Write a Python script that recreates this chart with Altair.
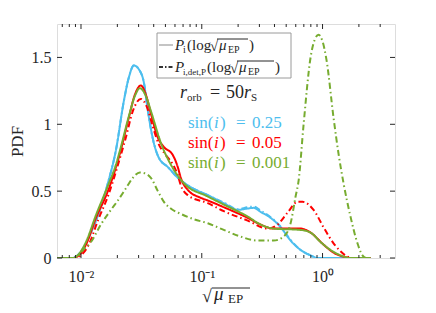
import altair as alt
import pandas as pd

# ---------------- data ----------------
blue_x = [0.00633, 0.00859, 0.00962, 0.0110, 0.0121, 0.0146, 0.0167, 0.0195, 0.0227, 0.0249, 0.0274, 0.0302,
          0.0332, 0.0358, 0.0401, 0.0441, 0.0524, 0.0633, 0.0811, 0.1121, 0.152, 0.199, 0.240, 0.269, 0.307,
          0.372, 0.450, 0.544, 0.658, 0.796, 0.909, 2.49]
blue_solid_y = [0, 0, 0.03, 0.11, 0.19, 0.38, 0.56, 0.81, 1.18, 1.35, 1.44, 1.41, 1.31, 1.10, 0.86, 0.75, 0.68,
                0.60, 0.53, 0.47, 0.41, 0.36, 0.37, 0.375, 0.345, 0.30, 0.23, 0.13, 0.06, 0.02, 0, 0]
blue_dash_y = [0, 0, 0.03, 0.11, 0.19, 0.38, 0.56, 0.81, 1.18, 1.35, 1.44, 1.41, 1.31, 1.10, 0.86, 0.75, 0.68,
               0.60, 0.53, 0.47, 0.415, 0.365, 0.38, 0.385, 0.355, 0.305, 0.235, 0.135, 0.06, 0.02, 0, 0]

red_solid_x = [0.00633, 0.00859, 0.00962, 0.0110, 0.0133, 0.0167, 0.0195, 0.0214, 0.0249, 0.0279, 0.0313,
               0.0345, 0.0379, 0.0433, 0.0486, 0.0576, 0.0633, 0.0670, 0.0766, 0.0982, 0.1121, 0.152, 0.240,
               0.307, 0.394, 0.658, 0.796, 1.019, 1.233, 1.492, 1.703, 2.49]
red_solid_y = [0, 0, 0.02, 0.10, 0.30, 0.50, 0.68, 0.81, 1.05, 1.22, 1.29, 1.22, 1.08, 0.90, 0.83, 0.77, 0.68,
               0.60, 0.51, 0.45, 0.43, 0.38, 0.30, 0.25, 0.22, 0.22, 0.19, 0.10, 0.04, 0.01, 0, 0]

red_dash_x = [0.00633, 0.00892, 0.0100, 0.0116, 0.0138, 0.0170, 0.0206, 0.0235, 0.0269, 0.0313, 0.0351, 0.0394,
              0.0441, 0.0504, 0.0576, 0.0633, 0.0670, 0.0766, 0.1121, 0.152, 0.240, 0.351, 0.425, 0.514, 0.621,
              0.684, 0.843, 1.019, 1.233, 1.409, 1.610, 1.770, 2.49]
red_dash_y = [0, 0, 0.02, 0.10, 0.28, 0.48, 0.72, 0.90, 1.10, 1.19, 1.13, 0.98, 0.85, 0.77, 0.70, 0.62, 0.545,
              0.47, 0.41, 0.35, 0.28, 0.22, 0.25, 0.34, 0.42, 0.42, 0.36, 0.23, 0.11, 0.05, 0.01, 0, 0]

green_solid_x = [0.00633, 0.00859, 0.00962, 0.0110, 0.0133, 0.0167, 0.0195, 0.0214, 0.0249, 0.0279, 0.0307,
                 0.0345, 0.0379, 0.0459, 0.0587, 0.0710, 0.1121, 0.152, 0.240, 0.307, 0.394, 0.658, 0.796,
                 0.962, 1.165, 1.409, 1.703, 2.49]
green_solid_y = [0, 0, 0.03, 0.12, 0.32, 0.54, 0.70, 0.83, 1.06, 1.21, 1.27, 1.21, 1.10, 0.86, 0.66, 0.56, 0.46,
                 0.40, 0.31, 0.25, 0.22, 0.21, 0.19, 0.12, 0.06, 0.02, 0, 0]

green_dash_x = [0.00633, 0.00892, 0.0104, 0.0121, 0.0146, 0.0177, 0.0202, 0.0235, 0.0269, 0.0307, 0.0345,
                0.0379, 0.0433, 0.0486, 0.0554, 0.0670, 0.0859, 0.1121, 0.152, 0.210, 0.290, 0.394, 0.476,
                0.544, 0.598, 0.634, 0.697, 0.796, 0.859, 0.927, 1.0, 1.079, 1.233, 1.356, 1.492, 1.703,
                1.946, 2.14, 2.31, 2.49]
green_dash_y = [0, 0, 0.06, 0.12, 0.25, 0.36, 0.43, 0.52, 0.60, 0.64, 0.63, 0.60, 0.50, 0.42, 0.37, 0.33, 0.29,
                0.26, 0.21, 0.16, 0.13, 0.13, 0.16, 0.26, 0.46, 0.58, 1.0, 1.50, 1.63, 1.67, 1.62, 1.48, 1.05,
                0.78, 0.56, 0.31, 0.11, 0.02, 0, 0]

x_major_ticks = [0.01, 0.1, 1]
x_minor_ticks = [0.007, 0.008, 0.009, 0.02, 0.03, 0.04, 0.05, 0.06, 0.07, 0.08, 0.09,
                 0.2, 0.3, 0.4, 0.5, 0.6, 0.7, 0.8, 0.9, 2, 3]
y_ticks = [0, 0.5, 1, 1.5]

BLUE, RED, GREEN = "#4DBEEE", "#FF0000", "#77AC30"
AX = "#262626"
FONT = "Liberation Serif"

W, H = 338, 234
X0, Y0 = 57, 24  # plot-area origin on the page

xscale = alt.Scale(type="log", domain=[0.00633, 3.98], nice=False)
yscale = alt.Scale(domain=[0, 1.75], nice=False)

xaxis = alt.Axis(values=x_major_ticks, ticks=False, domain=False, grid=False, title="",
                 labelExpr="datum.value < 0.05 ? '10⁻²' : (datum.value < 0.5 ? '10⁻¹' : '10⁰')",
                 labelFont=FONT, labelFontSize=16, labelColor=AX, labelPadding=10, labelFlush=False)
yaxis = alt.Axis(values=y_ticks, ticks=False, domain=False, grid=False, format="~g",
                 title="PDF", titleFont=FONT, titleFontSize=17, titleFontWeight="normal", titleColor=AX,
                 titlePadding=5, labelFont=FONT, labelFontSize=16, labelColor=AX, labelPadding=6)

DASHDOT = [6, 3, 1.5, 3]
series = [
    (blue_x, blue_solid_y, BLUE, [1, 0]),
    (blue_x, blue_dash_y, BLUE, DASHDOT),
    (red_solid_x, red_solid_y, RED, [1, 0]),
    (red_dash_x, red_dash_y, RED, DASHDOT),
    (green_solid_x, green_solid_y, GREEN, [1, 0]),
    (green_dash_x, green_dash_y, GREEN, DASHDOT),
]

layers = []
for xs, ys, col, dash in series:
    df = pd.DataFrame({"x": xs, "y": ys})
    layers.append(
        alt.Chart(df).mark_line(color=col, strokeWidth=2, strokeDash=dash, interpolate="monotone", clip=True)
        .encode(x=alt.X("x:Q", scale=xscale, axis=xaxis), y=alt.Y("y:Q", scale=yscale, axis=yaxis))
    )

# inward ticks
def xticks(vals, length, top):
    df = pd.DataFrame({"x": vals})
    y1, y2 = (0, length) if top else (H, H - length)
    return alt.Chart(df).mark_rule(color=AX, strokeWidth=1).encode(
        x=alt.X("x:Q", scale=xscale, axis=xaxis), y=alt.value(y1), y2=alt.value(y2))

def yticks(vals, length, right):
    df = pd.DataFrame({"y": vals})
    x1, x2 = (W, W - length) if right else (0, length)
    return alt.Chart(df).mark_rule(color=AX, strokeWidth=1).encode(
        y=alt.Y("y:Q", scale=yscale, axis=yaxis), x=alt.value(x1), x2=alt.value(x2))

layers += [xticks(x_major_ticks, 5, False), xticks(x_minor_ticks, 3, False),
           xticks(x_major_ticks, 5, True), xticks(x_minor_ticks, 3, True),
           yticks(y_ticks, 5, False), yticks(y_ticks, 5, True)]

one = alt.Data(values=[{}])

def txt(s, x, y, size, color=AX, italic=False):
    return alt.Chart(one).mark_text(text=s, font=FONT, fontSize=size, color=color, align="left",
                                    baseline="alphabetic", fontStyle="italic" if italic else "normal") \
        .encode(x=alt.value(x - X0), y=alt.value(y - Y0))

def hline(x1, x2, y, color=AX, width=1, dash=None):
    kw = dict(color=color, strokeWidth=width)
    if dash:
        kw["strokeDash"] = dash
    return alt.Chart(one).mark_rule(**kw).encode(
        x=alt.value(x1 - X0), x2=alt.value(x2 - X0), y=alt.value(y - Y0))

# legend box
layers.append(alt.Chart(one).mark_rect(fill="white", stroke="#9a9a9a", strokeWidth=1).encode(
    x=alt.value(157 - X0), x2=alt.value(291 - X0), y=alt.value(33 - Y0), y2=alt.value(78 - Y0)))
layers += [
    hline(159, 173, 45, color="#c4c4c4", width=2),
    hline(159, 173, 67, color="#333333", width=2, dash=[4, 2, 1.5, 2]),
    # line 1
    txt("P", 175, 50, 15, italic=True), txt("i", 183, 53, 10),
    txt("(log", 187, 50, 15), txt("√", 210, 51, 15), hline(217, 248, 39),
    txt("μ", 219, 50, 15, italic=True), txt("EP", 228, 53, 10), txt(")", 249, 50, 15),
    # line 2
    txt("P", 175, 72, 15, italic=True), txt("i,det,P", 183, 75, 9),
    txt("(log", 207, 72, 15), txt("√", 230, 73, 15), hline(237, 274, 61),
    txt("μ", 239, 72, 15, italic=True), txt("EP", 248, 75, 10), txt(")", 275, 72, 15),
]

# annotations
layers += [
    txt("r", 180, 98, 18, italic=True), txt("orb", 187, 101, 11), txt("=", 210, 98, 18),
    txt("50", 226, 98, 18), txt("r", 244, 98, 18, italic=True), txt("S", 251, 101, 11),
]
for lab, yb, col in [("0.25", 128, BLUE), ("0.05", 148, RED), ("0.001", 168, GREEN)]:
    layers += [txt("sin(", 188, yb, 17, col), txt("i", 214, yb, 17, col, italic=True),
               txt(")", 220, yb, 17, col), txt("=", 236, yb, 17, col), txt(lab, 252, yb, 17, col)]

# x-axis title  sqrt(mu_EP)
layers += [txt("√", 202, 302, 18), hline(212, 250, 288), txt("μ", 214, 300, 19, italic=True),
           txt("EP", 228, 303, 13)]

chart = alt.layer(*layers).properties(
    width=W, height=H,
    padding={"left": 49, "top": 16, "right": 33, "bottom": 47},
    autosize=alt.AutoSizeParams(type="none"),
).configure_view(stroke=AX, strokeWidth=1).configure(background="white")

chart.save("out.html", embed_options={"renderer": "svg", "actions": False})
